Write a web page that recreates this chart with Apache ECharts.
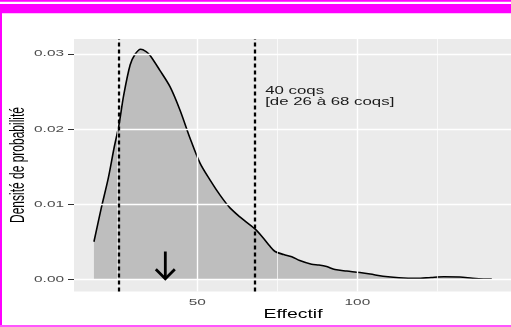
<!DOCTYPE html>
<html>
<head>
<meta charset="utf-8">
<script src="https://cdn.jsdelivr.net/npm/echarts@6/dist/echarts.min.js"></script>
<style>
html,body{margin:0;padding:0;background:#fff;}
#chart{width:511px;height:327px;}
</style>
</head>
<body>
<div id="chart"></div>
<script>
// ---- data ----
const densityX = [17.7, 20, 22.2, 24, 25.5, 27, 29, 30.5, 32.3, 34, 35.2, 38.3, 41.5, 44.6, 47.7, 50.8, 54, 57.1, 60.2, 63.3, 68, 70.6, 72.5, 74.3, 77, 79.5, 82, 85.7, 88, 90.4, 93, 96.7, 100.8, 104, 108, 113, 118.5, 123, 127, 132, 136, 139.4, 142];
const densityY = [0.0050, 0.0095, 0.0135, 0.0175, 0.0205, 0.0245, 0.0285, 0.0299, 0.0306, 0.0303, 0.0298, 0.0278, 0.0256, 0.0225, 0.0188, 0.0155, 0.0132, 0.0112, 0.0095, 0.0083, 0.0067, 0.0055, 0.0045, 0.0037, 0.0033, 0.0030, 0.0025, 0.0020, 0.0019, 0.0017, 0.0013, 0.0011, 0.0009, 0.0007, 0.0004, 0.0002, 0.00012, 0.00025, 0.00035, 0.0003, 0.00015, 0.00005, 0.00002];
const intervalBounds = [25.6, 68];
const arrowX = [40];
const arrowTop = [0.0037];
const arrowTip = [0];
const labelPos = [71.2, 0.0243];
const labelLines = ['40 coqs', '[de 26 à 68 coqs]'];
const xTicks = [50, 100];
const xTickLabels = ['50', '100'];
const xMinor = [25, 75, 125];
const yTicks = [0, 0.01, 0.02, 0.03];
const yTickLabels = ['0.00', '0.01', '0.02', '0.03'];
const yMinor = [0.005, 0.015, 0.025];
const xTitle = 'Effectif';
const yTitle = 'Densité de probabilité';

// ---- chart ----
const chart = echarts.init(document.getElementById('chart'), null, {renderer: 'canvas'});
const FONT = '"Liberation Sans", Arial, Helvetica, sans-serif';
const STRETCH = 1.62;   // horizontal stretch of all text in the reference

const gridLines = []
  .concat(xMinor.map(v => ({xAxis: v, lineStyle: {color: '#fff', width: 0.7, type: 'solid'}})))
  .concat(yMinor.map(v => ({yAxis: v, lineStyle: {color: '#fff', width: 0.7, type: 'solid'}})))
  .concat(xTicks.map(v => ({xAxis: v, lineStyle: {color: '#fff', width: 1.4, type: 'solid'}})))
  .concat(yTicks.map(v => ({yAxis: v, lineStyle: {color: '#fff', width: 1.4, type: 'solid'}})));

const option = {
  animation: false,
  textStyle: {fontFamily: FONT},
  graphic: [
    {type: 'rect', shape: {x: 0, y: 0, width: 511, height: 1.7}, style: {fill: '#ff00ff'}, z: 100},
    {type: 'rect', shape: {x: 0, y: 4, width: 511, height: 9.3}, style: {fill: '#ff00ff'}, z: 100},
    {type: 'rect', shape: {x: 0, y: 13, width: 2, height: 314}, style: {fill: '#ff00ff'}, z: 100},
    {type: 'rect', shape: {x: 0, y: 325, width: 511, height: 2}, style: {fill: '#ff55ff'}, z: 100},
    {type: 'text', x: 293, y: 315, scaleX: STRETCH, z: 50,
      style: {text: xTitle, fill: '#000', fontSize: 12, fontFamily: FONT, align: 'center', verticalAlign: 'middle'}},
    {type: 'text', x: 19, y: 165, rotation: Math.PI / 2, scaleY: STRETCH, z: 50,
      style: {text: yTitle, fill: '#000', fontSize: 12, fontFamily: FONT, align: 'center', verticalAlign: 'middle'}}
  ],
  grid: {
    left: 74, right: 0, top: 39, bottom: 35.5,
    show: true, backgroundColor: '#EBEBEB', borderWidth: 0
  },
  xAxis: {
    type: 'value', min: 11.47, max: 148,
    splitLine: {show: false},
    axisLine: {show: false},
    axisTick: {show: true, customValues: xTicks, length: 4, lineStyle: {color: '#333', width: 1}},
    axisLabel: {show: false}
  },
  yAxis: {
    type: 'value', min: -0.00162, max: 0.03197,
    splitLine: {show: false},
    axisLine: {show: false},
    axisTick: {show: true, customValues: yTicks, length: 6, lineStyle: {color: '#333', width: 1}},
    axisLabel: {show: false}
  },
  series: [
    {
      type: 'line', data: [], z: 1, silent: true,
      markLine: {silent: true, symbol: ['none', 'none'], label: {show: false}, animation: false, data: gridLines}
    },
    {
      type: 'line', z: 3, silent: true,
      data: densityX.map((x, i) => [x, densityY[i]]),
      showSymbol: false, smooth: 0.3,
      lineStyle: {color: '#000', width: 1.6},
      areaStyle: {color: '#BEBEBE', opacity: 1}
    },
    {
      type: 'line', data: [], z: 5, silent: true,
      markLine: {silent: true, symbol: ['none', 'none'], label: {show: false}, animation: false,
        data: intervalBounds.map(v => ({xAxis: v, lineStyle: {color: '#000', width: 2.3, type: [4, 3]}}))}
    },
    {
      type: 'custom', z: 6, silent: true, clip: false,
      data: arrowX.map((x, i) => [x, arrowTop[i], arrowTip[i]]),
      renderItem: function (params, api) {
        const top = api.coord([api.value(0), api.value(1)]);
        const tip = api.coord([api.value(0), api.value(2)]);
        return {
          type: 'group',
          children: [
            {type: 'line', shape: {x1: top[0], y1: top[1], x2: tip[0], y2: tip[1] - 1},
              style: {stroke: '#000', lineWidth: 2.8}},
            {type: 'polyline', shape: {points: [[tip[0] - 9.5, tip[1] - 10], [tip[0], tip[1] - 0.5], [tip[0] + 9.5, tip[1] - 10]]},
              style: {stroke: '#000', lineWidth: 2.8, fill: null, lineJoin: 'miter'}}
          ]
        };
      }
    },
    {
      // annotation text
      type: 'custom', z: 7, silent: true, clip: false,
      data: [labelPos],
      renderItem: function (params, api) {
        const p = api.coord([api.value(0), api.value(1)]);
        return {type: 'text', x: p[0], y: p[1], scaleX: STRETCH,
          style: {text: labelLines.join('\n'), fill: '#1a1a1a', fontSize: 10.4, lineHeight: 11.6,
            fontFamily: FONT, align: 'left', verticalAlign: 'middle'}};
      }
    },
    {
      // x tick labels
      type: 'custom', z: 7, silent: true, clip: false,
      data: xTicks.map(v => [v, 0]),
      renderItem: function (params, api) {
        const p = api.coord([api.value(0), 0]);
        const cs = params.coordSys;
        return {type: 'text', x: p[0], y: cs.y + cs.height + 11, scaleX: STRETCH,
          style: {text: xTickLabels[params.dataIndex], fill: '#4D4D4D', fontSize: 9.5,
            fontFamily: FONT, align: 'center', verticalAlign: 'middle'}};
      }
    },
    {
      // y tick labels
      type: 'custom', z: 7, silent: true, clip: false,
      data: yTicks.map(v => [20, v]),
      renderItem: function (params, api) {
        const p = api.coord([20, api.value(1)]);
        const cs = params.coordSys;
        return {type: 'text', x: cs.x - 10, y: p[1], scaleX: STRETCH,
          style: {text: yTickLabels[params.dataIndex], fill: '#4D4D4D', fontSize: 9.5,
            fontFamily: FONT, align: 'right', verticalAlign: 'middle'}};
      }
    }
  ]
};
chart.setOption(option);
</script>
</body>
</html>
